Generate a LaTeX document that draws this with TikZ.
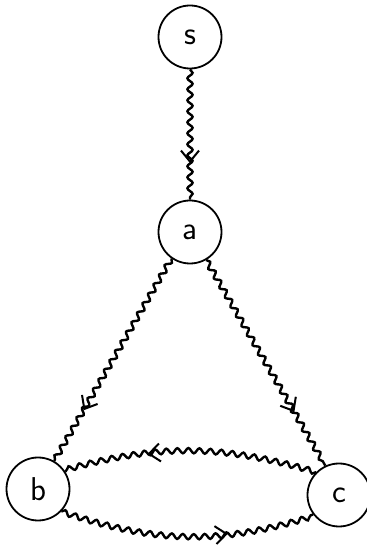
\documentclass[tikz,border=0pt]{standalone}
\usepackage{fontspec}
\usetikzlibrary{decorations.pathmorphing,decorations.markings,arrows.meta}
\begin{document}
\begin{tikzpicture}[x=1pt,y=1pt,
  vertex/.style={circle,draw,line width=1.8pt,minimum size=63pt,inner sep=0pt,
    font=\fontsize{33}{35}\selectfont\sffamily},
  wavy/.style={line width=2.4pt,decorate,decoration={snake,amplitude=2.6pt,segment length=11pt}},
  tipat/.style={decoration={markings,mark=at position #1 with
    {\arrow[line width=2pt]{Straight Barb[length=11pt,width=18pt]}}},postaction={decorate}}
]
\useasboundingbox (0,0) rectangle (367,555);
\node[vertex] (s) at (190,518) {s};
\node[vertex] (a) at (190,323) {a};
\node[vertex] (b) at (38,66) {b};
\node[vertex] (c) at (339,60) {c};
% s -> a
\draw[wavy] (s) -- (a);
\path[tipat=0.72] (s) -- (a);
% a -> b
\draw[wavy] (a.235) -- (b.60);
\path[tipat=0.75] (a.235) -- (b.60);
% a -> c
\draw[wavy] (a.300) -- (c.115);
\path[tipat=0.74] (a.300) -- (c.115);
% c -> b (upper arc)
\draw[wavy] (c.135) to[bend right=16] (b.33);
\path[tipat=0.67] (c.135) to[bend right=16] (b.33);
% b -> c (lower arc)
\draw[wavy] (b.316) to[bend right=18] (c.217);
\path[tipat=0.66] (b.316) to[bend right=18] (c.217);
\end{tikzpicture}
\end{document}
